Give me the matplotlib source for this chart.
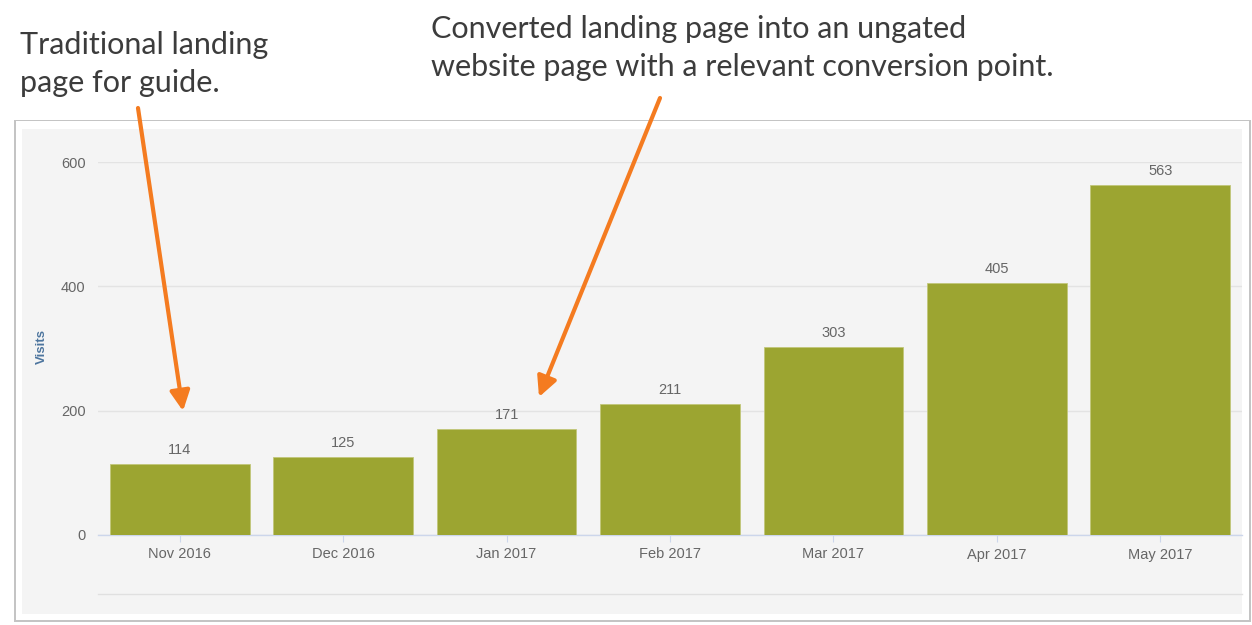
import matplotlib
matplotlib.use("Agg")
import matplotlib.pyplot as plt
from matplotlib.patches import Rectangle, FancyArrowPatch
from matplotlib.lines import Line2D

months = ["Nov 2016", "Dec 2016", "Jan 2017", "Feb 2017", "Mar 2017", "Apr 2017", "May 2017"]
visits = [114, 125, 171, 211, 303, 405, 563]
y_ticks = [0, 200, 400, 600]
note_left = ["Traditional landing", "page for guide."]
note_right = ["Converted landing page into an ungated",
              "website page with a relevant conversion point."]

plt.rcParams["font.family"] = ["Liberation Sans", "DejaVu Sans"]

W, H = 1252, 625
fig = plt.figure(figsize=(W / 100, H / 100), dpi=100)
fig.patch.set_facecolor("white")

def fx(px):
    return px / W

def fy(py):
    return 1 - py / H

# outer frame with shadow
fig.patches.append(Rectangle((fx(14), fy(622)), fx(1237), (622 - 120) / H,
                             transform=fig.transFigure, facecolor="#c4c4c4",
                             edgecolor="none", zorder=-3))
fig.patches.append(Rectangle((fx(15.5), fy(620)), fx(1233), (620 - 121) / H,
                             transform=fig.transFigure, facecolor="white",
                             edgecolor="none", zorder=-2))
fig.patches.append(Rectangle((fx(22), fy(614)), fx(1220), (614 - 129) / H,
                             transform=fig.transFigure, facecolor="#f4f4f4",
                             edgecolor="none", zorder=-1))

ax = fig.add_axes([fx(98), fy(535), fx(1242 - 98), (535 - 162) / H])
ax.set_facecolor("none")
ax.set_zorder(1)
x = list(range(len(months)))
ax.bar(x, visits, width=0.855, color="#9ca531", edgecolor="#c2c77a",
       linewidth=0.6, zorder=3)
ax.set_xlim(-0.5, len(months) - 0.5)
ax.set_ylim(0, 600)
ax.set_yticks(y_ticks)
ax.set_yticklabels([str(t) for t in y_ticks])
ax.set_xticks(x)
ax.set_xticklabels(months)
for s in ["top", "right", "left"]:
    ax.spines[s].set_visible(False)
ax.spines["bottom"].set_color("#ccd6eb")
ax.spines["bottom"].set_linewidth(1.0)
ax.tick_params(axis="y", length=0, pad=9, labelsize=10.5, labelcolor="#666666")
ax.tick_params(axis="x", length=5, color="#ccd6eb", pad=4, labelsize=10.5,
               labelcolor="#666666")
ax.yaxis.grid(True, color="#e3e3e3", lw=1.0, zorder=0)
ax.set_axisbelow(True)

for xi, v in zip(x, visits):
    ax.annotate(str(v), (xi, v), xytext=(0, 5), textcoords="offset points",
                ha="center", va="bottom", fontsize=10.5, color="#666666", zorder=4)

fig.text(fx(42), fy(347), "Visits", rotation=90, ha="center", va="center",
         fontsize=9.5, fontweight="bold", color="#4d759e")

# bottom line of panel
fig.lines.append(Line2D([fx(98), fx(1242)], [fy(594), fy(594)],
                        transform=fig.transFigure, color="#e0e0e0", lw=1.0, zorder=-0.5))

# annotations
for i, line in enumerate(note_left):
    fig.text(fx(20), fy(54 + 38 * i), line, ha="left", va="baseline", fontsize=22,
             family="Lato", color="#3c3c3c")
for i, line in enumerate(note_right):
    fig.text(fx(431), fy(38 + 38 * i), line, ha="left", va="baseline", fontsize=22,
             family="Lato", color="#3c3c3c")

def arrow(p0, p1):
    a = FancyArrowPatch((fx(p0[0]), fy(p0[1])), (fx(p1[0]), fy(p1[1])),
                        transform=fig.transFigure,
                        arrowstyle="-|>,head_length=6,head_width=3",
                        mutation_scale=2.0, color="#f47b20", lw=3, shrinkA=0, shrinkB=0,
                        zorder=10)
    fig.patches.append(a)

arrow((138, 108), (183, 411))
arrow((660, 98), (539, 397))

fig.savefig("out.png", dpi=100)
